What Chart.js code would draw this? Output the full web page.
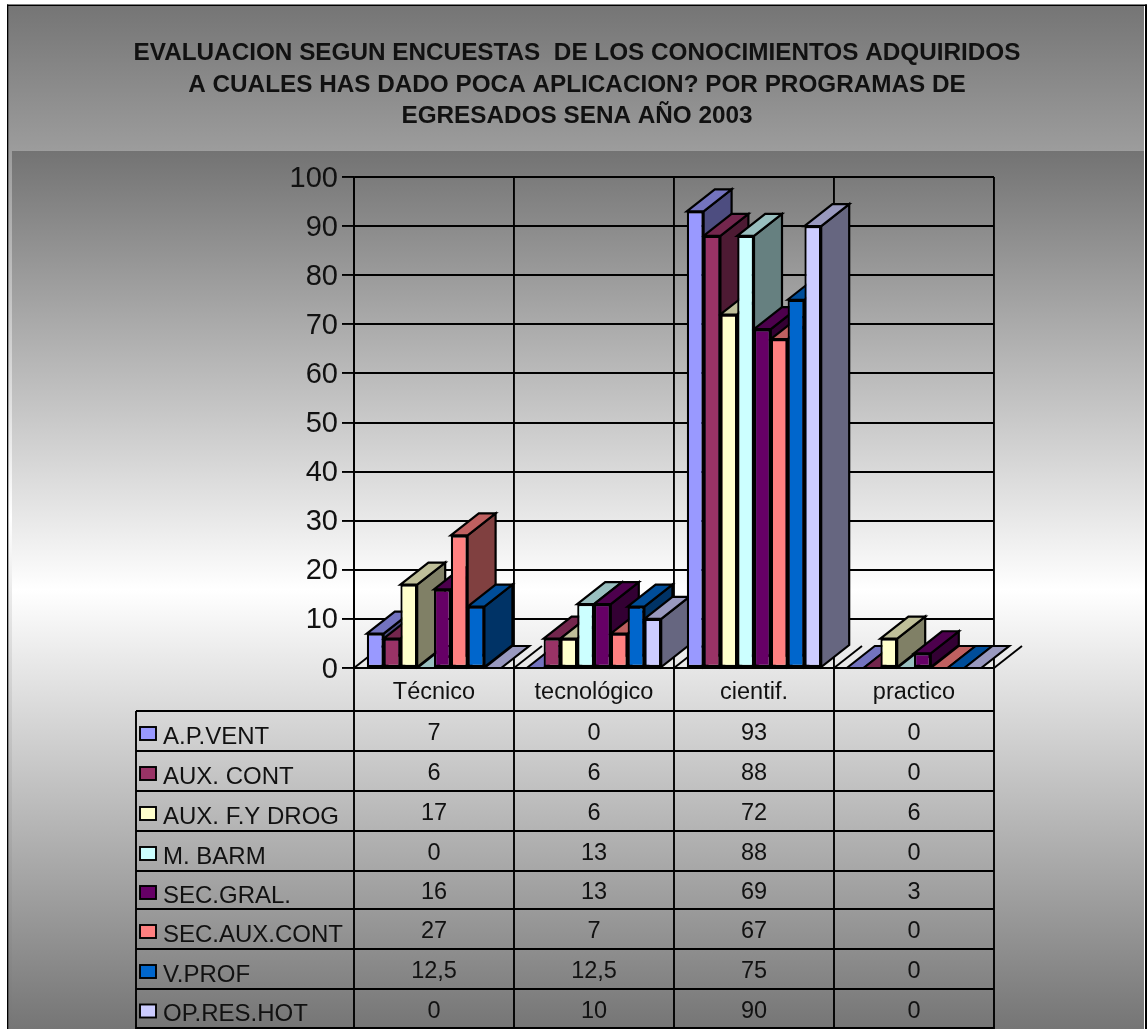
<!DOCTYPE html>
<html><head><meta charset="utf-8">
<style>html,body{margin:0;padding:0;background:#fff}canvas{display:block}</style>
<script src="https://cdn.jsdelivr.net/npm/chart.js@4"></script>
</head><body><canvas id="c" width="1147" height="1029"></canvas>
<script>
const categories = ['Técnico','tecnológico','cientif.','practico'];
const seriesNames = ['A.P.VENT','AUX. CONT','AUX. F.Y DROG','M. BARM','SEC.GRAL.','SEC.AUX.CONT','V.PROF','OP.RES.HOT'];
const apVent   = [7,0,93,0];
const auxCont  = [6,6,88,0];
const auxFyDrog= [17,6,72,6];
const mBarm    = [0,13,88,0];
const secGral  = [16,13,69,3];
const secAux   = [27,7,67,0];
const vProf    = [12.5,12.5,75,0];
const opRes    = [0,10,90,0];
const seriesValues = [apVent,auxCont,auxFyDrog,mBarm,secGral,secAux,vProf,opRes];
const seriesColors = [[153,153,255],[153,51,102],[255,255,204],[204,255,255],[102,0,102],[255,128,128],[0,102,204],[204,204,255]];
const titleLines = ['EVALUACION SEGUN ENCUESTAS  DE LOS CONOCIMIENTOS ADQUIRIDOS','A CUALES HAS DADO POCA APLICACION? POR PROGRAMAS DE','EGRESADOS SENA AÑO 2003'];

const LW = 1.9, BARLW = 2.2, DX = 28, DY = 22, FONT = '"Liberation Sans", Arial, sans-serif';
const rgb = (c,f)=>`rgb(${Math.round(c[0]*f)},${Math.round(c[1]*f)},${Math.round(c[2]*f)})`;

function poly(ctx, pts, fill){
  ctx.beginPath();
  pts.forEach((p,i)=> i ? ctx.lineTo(p[0],p[1]) : ctx.moveTo(p[0],p[1]));
  ctx.closePath();
  ctx.fillStyle = fill; ctx.fill();
  ctx.stroke();
}

const backdrop = { id:'backdrop', beforeDraw(chart){
  const ctx = chart.ctx;
  ctx.save();
  ctx.fillStyle = '#fff'; ctx.fillRect(0,0,1147,1029);
  let g = ctx.createLinearGradient(0,5,0,1029);
  g.addColorStop(0,'rgb(117,117,117)'); g.addColorStop(.5,'#fff'); g.addColorStop(1,'rgb(117,117,117)');
  ctx.fillStyle = g; ctx.fillRect(8,5,1137,1024);
  g = ctx.createLinearGradient(0,151,0,1029);
  g.addColorStop(0,'rgb(115,115,115)'); g.addColorStop(.5,'#fff'); g.addColorStop(1,'rgb(117,117,117)');
  ctx.fillStyle = g; ctx.fillRect(12,151,1132,878);
  ctx.fillStyle = '#fff'; ctx.fillRect(1144,0,1,1029);
  ctx.fillStyle = '#000';
  ctx.fillRect(7,4.5,1140,1.5);
  ctx.fillRect(7,4.5,1.3,1025);
  ctx.fillRect(1145,4.5,2,1025);
  ctx.fillStyle = '#111'; ctx.textAlign = 'center'; ctx.textBaseline = 'middle';
  ctx.font = 'bold 24.3px '+FONT;
  titleLines.forEach((t,i)=>ctx.fillText(t,577,53.5+i*31.5));
  ctx.restore();
}};

const depth = { id:'depth', beforeDatasetsDraw(chart){
  const ctx = chart.ctx, area = chart.chartArea;
  ctx.save();
  ctx.strokeStyle = '#000'; ctx.lineWidth = LW; ctx.lineJoin = 'miter';
  const step = (area.right-area.left)/categories.length;
  for(let i=0;i<=categories.length;i++){
    const x = area.left+i*step;
    ctx.beginPath(); ctx.moveTo(x,area.bottom); ctx.lineTo(x+DX,area.bottom-DY); ctx.stroke();
  }
  ctx.lineWidth = BARLW;
  categories.forEach((_,ci)=>{
    seriesValues.forEach((__,si)=>{
      const el = chart.getDatasetMeta(si).data[ci];
      const c = seriesColors[si];
      const l = el.x-el.width/2, r = el.x+el.width/2, t = el.y, b = el.base;
      if(b-t>0.5) poly(ctx,[[r,t],[r+DX,t-DY],[r+DX,b-DY],[r,b]],rgb(c,.5));
      poly(ctx,[[l,t],[l+DX,t-DY],[r+DX,t-DY],[r,t]],rgb(c,.75));
    });
  });
  ctx.restore();
}};

const dataTable = { id:'dataTable', afterDatasetsDraw(chart){
  const ctx = chart.ctx, area = chart.chartArea;
  const step = (area.right-area.left)/categories.length;
  const rows = [711,751,791,831,871,909,949,989,1028];
  const keyL = 140, textL = 163, tableL = 136;
  ctx.save();
  ctx.strokeStyle='#000'; ctx.lineWidth=LW;
  const line=(a,b,c,d)=>{ctx.beginPath();ctx.moveTo(a,b);ctx.lineTo(c,d);ctx.stroke();};
  rows.forEach(y=>line(tableL,y,area.right,y));
  line(tableL,711,tableL,1029);
  for(let i=0;i<=categories.length;i++){ const x=area.left+i*step; line(x,area.bottom,x,1029); }
  ctx.textBaseline='middle';
  seriesNames.forEach((n,si)=>{
    const y=(rows[si]+rows[si+1])/2;
    ctx.fillStyle=rgb(seriesColors[si],1);
    ctx.fillRect(keyL,y-4,16,13);
    ctx.strokeRect(keyL,y-4,16,13);
    ctx.fillStyle='#111'; ctx.textAlign='left';
    ctx.font='24px '+FONT;
    ctx.fillText(n,textL,y+6);
    ctx.textAlign='center';
    ctx.font='23.5px '+FONT;
    seriesValues[si].forEach((v,ci)=>{
      ctx.fillText(String(v).replace('.',','),area.left+(ci+.5)*step,y+3);
    });
  });
  ctx.restore();
}};

new Chart(document.getElementById('c'),{
  type:'bar',
  data:{ labels:categories,
    datasets:seriesNames.map((n,i)=>({label:n,data:seriesValues[i],backgroundColor:rgb(seriesColors[i],1),
      borderColor:'#000',borderWidth:BARLW,borderSkipped:false,categoryPercentage:.84,barPercentage:1}))},
  options:{
    responsive:false, animation:false, devicePixelRatio:1,
    layout:{padding:{left:160,right:153,top:177,bottom:317}},
    plugins:{
      legend:{display:false}, tooltip:{enabled:false}, title:{display:false}
    },
    scales:{
      y:{min:0,max:100,
        afterFit(s){s.width=194;},
        ticks:{stepSize:10,color:'#111',padding:4,labelOffset:1.5,font:{family:FONT,size:29}},
        grid:{color:'#000',lineWidth:LW,tickLength:12,tickColor:'#000',tickWidth:LW},
        border:{color:'#000',width:LW}},
      x:{
        afterFit(s){s.height=44;},
        ticks:{color:'#111',padding:10,font:{family:FONT,size:23.5}},
        grid:{color:'#000',lineWidth:LW,drawTicks:false},
        border:{color:'#000',width:LW}}
    }
  },
  plugins:[backdrop,depth,dataTable]
});
</script></body></html>
